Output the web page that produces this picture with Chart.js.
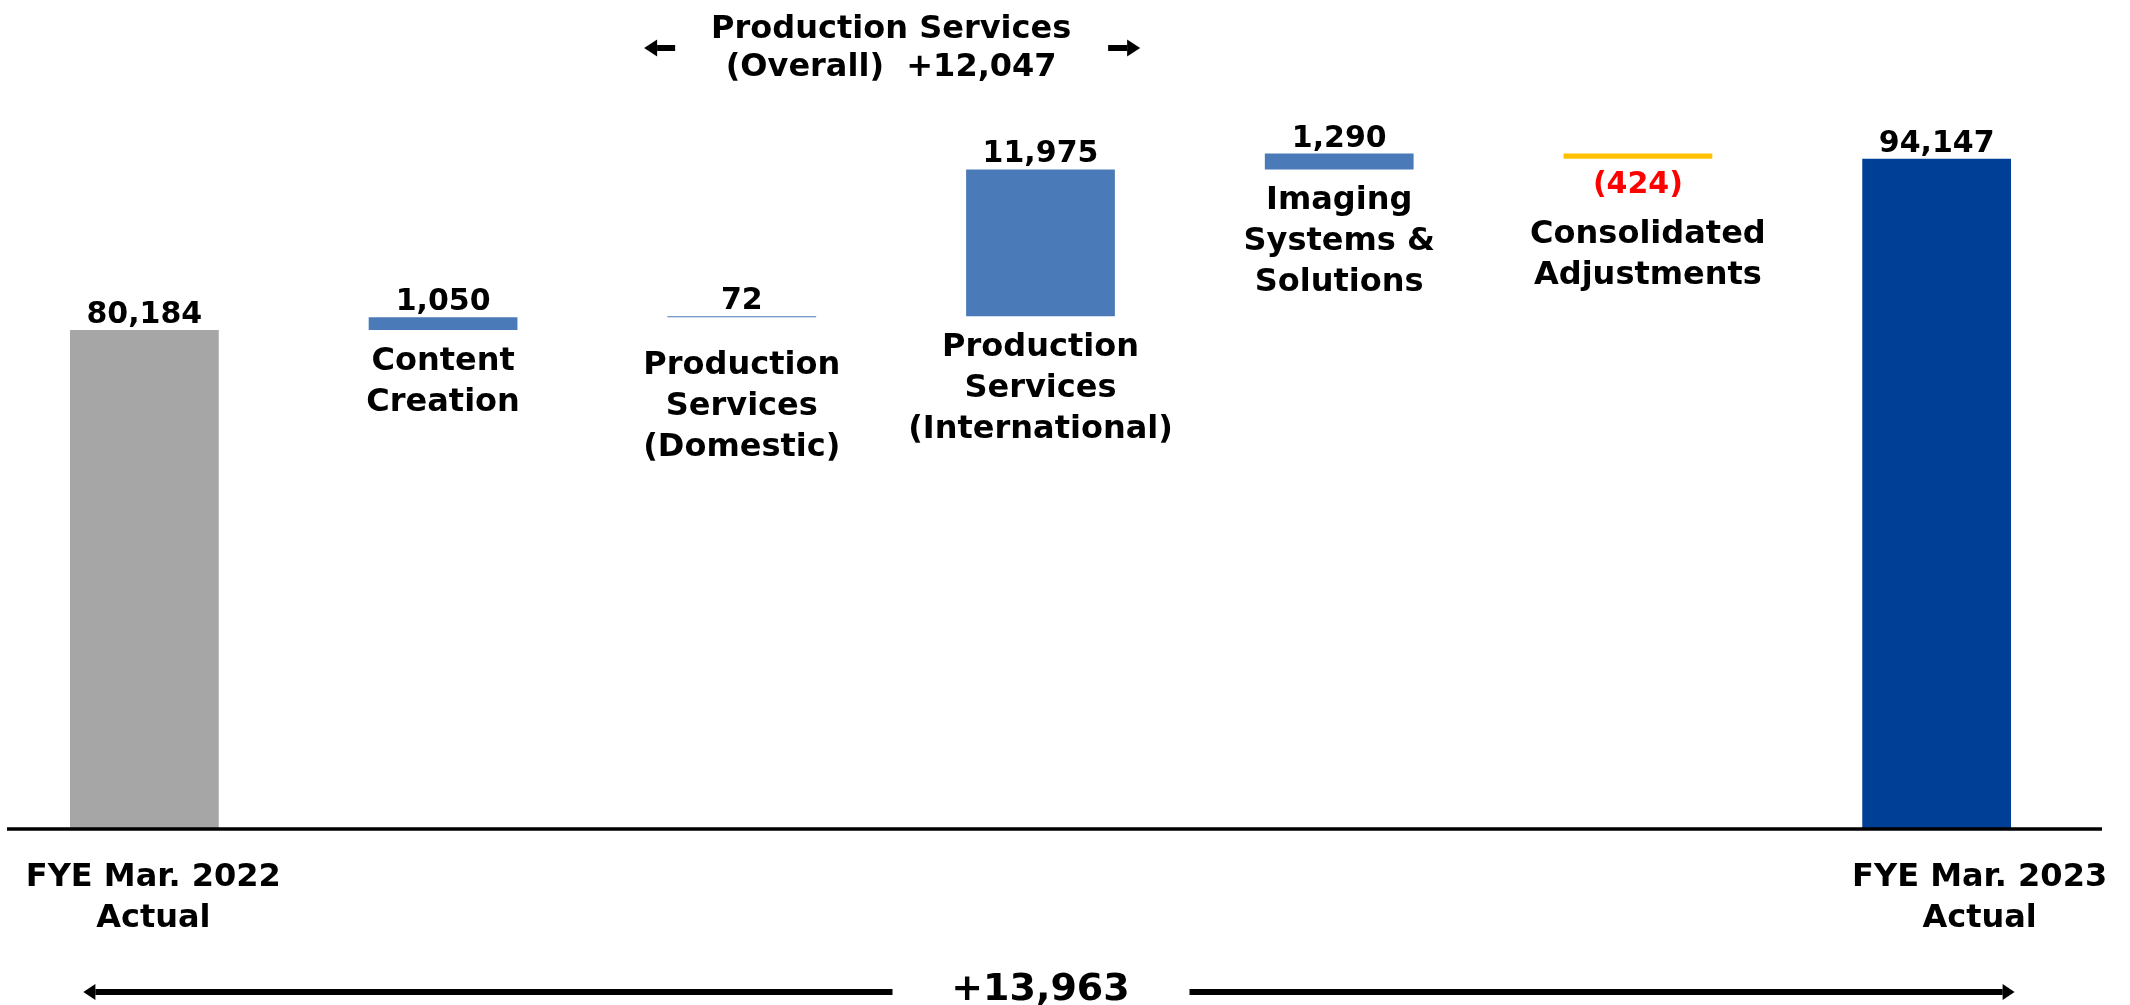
<!DOCTYPE html>
<html>
<head>
<meta charset="utf-8">
<script src="https://cdn.jsdelivr.net/npm/chart.js@4.4.0/dist/chart.umd.min.js"></script>
<style>
  html, body { margin: 0; padding: 0; background: #fff; overflow: hidden; }
  #wrap { position: absolute; left: -5px; top: 0; }
</style>
</head>
<body>
<div id="wrap"><canvas id="bridgeChart" width="2135" height="1005"></canvas></div>
<script>
// categories, shown as multi-line labels
const categories = [
  ["FYE Mar. 2022", "Actual"],
  ["Content", "Creation"],
  ["Production", "Services", "(Domestic)"],
  ["Production", "Services", "(International)"],
  ["Imaging", "Systems &", "Solutions"],
  ["Consolidated", "Adjustments"],
  ["FYE Mar. 2023", "Actual"]
];
const openingTotal = 80184;
const segmentChanges = [1050, 72, 11975, 1290, -424];
const closingTotal = 94147;
const productionOverall = 12047;
const totalChange = 13963;
const barColors = ["#a6a6a6", "#4a7ab7", "#4a7ab7", "#4a7ab7", "#4a7ab7", "#ffc000", "#003f96"];

// floating bars for the bridge
const barValues = [openingTotal, ...segmentChanges, closingTotal];
const barData = [openingTotal];
let running = openingTotal;
segmentChanges.forEach((c) => {
  barData.push([running, running + c]);
  running += c;
});
barData.push(closingTotal);

const FONT = '"DejaVu Sans", Verdana, sans-serif';
// small hand offsets of the text boxes (layout only)
const labelNudge = { 0: { dx: 9 }, 2: { dy: 17 }, 5: { dx: 10 }, 6: { dx: 43 } };

function fmt(v) {
  const s = Math.abs(v).toLocaleString("en-US");
  return v < 0 ? `(${s})` : s;
}

function arrow(ctx, x1, x2, y, shaft, headLen, headH) {
  // shaft from x1 to the head, tip at x2
  const dir = Math.sign(x2 - x1);
  ctx.fillRect(Math.min(x1, x2 - dir * headLen), y - shaft / 2, Math.abs(x2 - dir * headLen - x1), shaft);
  ctx.beginPath();
  ctx.moveTo(x2, y);
  ctx.lineTo(x2 - dir * headLen, y - headH / 2);
  ctx.lineTo(x2 - dir * headLen, y + headH / 2);
  ctx.closePath();
  ctx.fill();
}

const bridgeLabels = {
  id: "bridgeLabels",
  afterDatasetsDraw(chart) {
    const ctx = chart.ctx;
    const area = chart.chartArea;
    const bars = chart.getDatasetMeta(0).data;
    ctx.save();

    // base line
    ctx.strokeStyle = "#000";
    ctx.lineWidth = 3.5;
    ctx.beginPath();
    ctx.moveTo(12, area.bottom);
    ctx.lineTo(2107, area.bottom);
    ctx.stroke();

    ctx.textAlign = "center";
    ctx.textBaseline = "alphabetic";
    bars.forEach((bar, i) => {
      const top = Math.min(bar.y, bar.base);
      const bottom = Math.max(bar.y, bar.base);
      const v = barValues[i];
      const isTotal = i === 0 || i === bars.length - 1;
      const nudge = labelNudge[i] || {};
      ctx.font = `bold 30px ${FONT}`;
      let y;
      if (v < 0) {
        ctx.fillStyle = "#ff0000";
        ctx.fillText(fmt(v), bar.x, bottom + 34);
        y = bottom + 84;
      } else {
        ctx.fillStyle = "#000";
        ctx.fillText(fmt(v), bar.x, top - 7);
        y = isTotal ? area.bottom + 57 : bottom + 40;
      }
      y += nudge.dy || 0;
      ctx.fillStyle = "#000";
      ctx.font = `bold 32px ${FONT}`;
      categories[i].forEach((line, k) => {
        ctx.fillText(line, bar.x + (nudge.dx || 0), y + k * 41);
      });
    });

    // Production Services (Overall) bracket
    const midTop = (bars[2].x + bars[3].x) / 2;
    ctx.font = `bold 32px ${FONT}`;
    ctx.fillText("Production Services", midTop, 38);
    ctx.fillText("(Overall)  +" + productionOverall.toLocaleString("en-US"), midTop, 76);
    arrow(ctx, midTop - 216, midTop - 247, 48, 6, 13, 17);
    arrow(ctx, midTop + 217, midTop + 249, 48, 6, 13, 17);

    // total change arrow
    const first = bars[0].x;
    const last = bars[bars.length - 1].x;
    const midBottom = (first + last) / 2;
    ctx.font = `bold 38px ${FONT}`;
    ctx.fillText("+" + totalChange.toLocaleString("en-US"), midBottom, 1000);
    arrow(ctx, midBottom - 148, first - 61, 992, 6, 12, 16);
    arrow(ctx, midBottom + 149, last + 78, 992, 6, 12, 16);

    ctx.restore();
  }
};

new Chart(document.getElementById("bridgeChart"), {
  type: "bar",
  data: {
    labels: categories,
    datasets: [
      {
        data: barData,
        backgroundColor: barColors,
        borderWidth: 0,
        barPercentage: 0.498,
        categoryPercentage: 1.0
      }
    ]
  },
  options: {
    responsive: false,
    animation: false,
    devicePixelRatio: 1,
    layout: { padding: { left: 0, right: 44, top: 87, bottom: 176 } },
    plugins: {
      legend: { display: false },
      tooltip: { enabled: false }
    },
    scales: {
      x: { display: false },
      y: { display: false, min: 39500, max: 100000 }
    }
  },
  plugins: [bridgeLabels]
});
</script>
</body>
</html>
